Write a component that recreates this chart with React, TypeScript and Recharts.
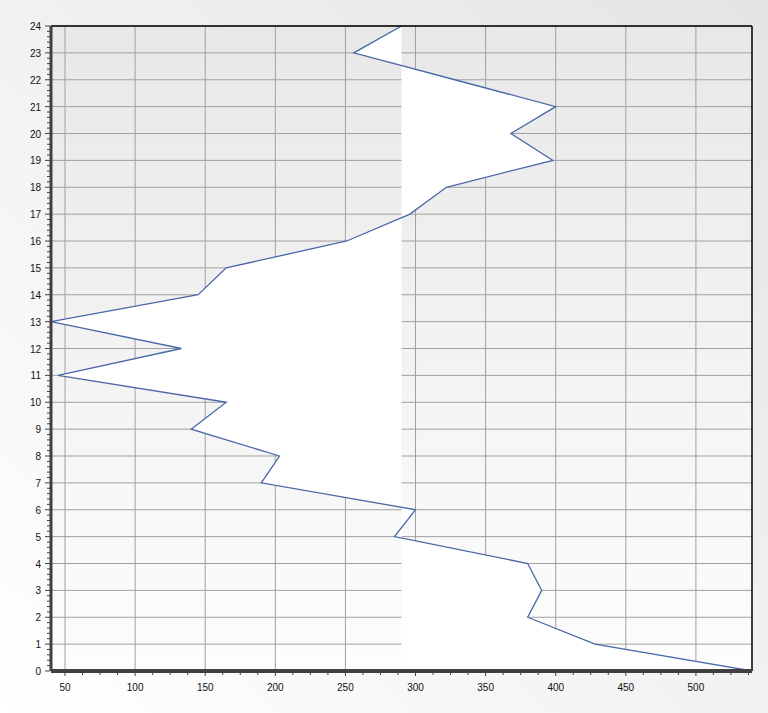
import { Area, CartesianGrid, ComposedChart, ReferenceLine, XAxis, YAxis } from "recharts";

// depth levels (vertical axis) and readings (horizontal axis)
const levels = [0, 1, 2, 3, 4, 5, 6, 7, 8, 9, 10, 11, 12, 13, 14, 15, 16, 17, 18, 19, 20, 21, 22, 23, 24];
const readings = [540, 428, 380, 390, 380, 285, 300, 190, 203, 140, 165, 45, 133, 40, 145, 165, 251, 296, 322, 398, 368, 400, 328, 256, 290];

const baseline = 290;
const xMajorTicks = [50, 100, 150, 200, 250, 300, 350, 400, 450, 500];
const xMinorTicks = [
  62.5, 75, 87.5, 112.5, 125, 137.5, 162.5, 175, 187.5, 212.5, 225, 237.5, 262.5, 275, 287.5,
  312.5, 325, 337.5, 362.5, 375, 387.5, 412.5, 425, 437.5, 462.5, 475, 487.5, 512.5, 525, 537.5,
];
const yMinorSteps = [0.2, 0.4, 0.6, 0.8];

const data = levels.map((level, i) => ({ level, value: readings[i] }));

const xTicks = [...xMajorTicks, ...xMinorTicks].sort((a, b) => a - b);
const yTicks = levels.flatMap((l) => (l < 24 ? [l, ...yMinorSteps.map((s) => l + s)] : [l]));

const font = "'Liberation Sans', Arial, sans-serif";

const XTick = ({ x, y, payload }: any) => {
  const major = xMajorTicks.includes(payload.value);
  return (
    <g>
      <line x1={x} x2={x} y1={y + 1} y2={y + (major ? 5 : 4)} stroke="#404040" />
      {major && (
        <text x={x} y={y + 20} textAnchor="middle" fontSize={10} fontFamily={font} fill="#111">
          {payload.value}
        </text>
      )}
    </g>
  );
};

const YTick = ({ x, y, payload }: any) => {
  const major = Number.isInteger(payload.value);
  return (
    <g>
      <line x1={x - (major ? 6 : 4)} x2={x - 1} y1={y} y2={y} stroke="#404040" />
      {major && (
        <text x={x - 10} y={y + 4} textAnchor="end" fontSize={10} fontFamily={font} fill="#111">
          {payload.value}
        </text>
      )}
    </g>
  );
};

export default function App() {
  return (
    <div
      style={{
        position: "absolute",
        top: 0,
        left: 0,
        width: 768,
        height: 713,
        background: "linear-gradient(to bottom left, #e4e4e4, #ffffff)",
      }}
    >
      <ComposedChart
        width={768}
        height={713}
        layout="vertical"
        data={data}
        margin={{ top: 26, right: 16, bottom: 0, left: 0 }}
      >
        <defs>
          <linearGradient id="plotBg" x1="0" y1="0" x2="0" y2="1">
            <stop offset="0%" stopColor="#e8e8e8" />
            <stop offset="100%" stopColor="#fdfdfd" />
          </linearGradient>
        </defs>
        <CartesianGrid
          fill="url(#plotBg)"
          stroke="#a0a0a0"
          strokeOpacity={1}
          verticalValues={xMajorTicks}
          horizontalValues={levels}
        />
        <XAxis
          type="number"
          domain={[40, 540]}
          ticks={xTicks}
          interval={0}
          height={42}
          tickSize={0}
          tickMargin={0}
          tick={<XTick />}
          axisLine={{ stroke: "#404040", strokeWidth: 4 }}
          allowDataOverflow
        />
        <YAxis
          type="number"
          dataKey="level"
          domain={[0, 24]}
          reversed
          ticks={yTicks}
          interval={0}
          width={51}
          tickSize={0}
          tickMargin={0}
          tick={<YTick />}
          axisLine={{ stroke: "#404040", strokeWidth: 3 }}
          allowDataOverflow
        />
        <ReferenceLine y={24} stroke="#000" strokeWidth={1.5} />
        <ReferenceLine x={540} stroke="#000" strokeWidth={1.5} />
        <Area
          type="linear"
          dataKey="value"
          baseValue={baseline}
          stroke="#4a68a8"
          strokeWidth={1.3}
          fill="#ffffff"
          fillOpacity={1}
          dot={false}
          activeDot={false}
          isAnimationActive={false}
        />
      </ComposedChart>
    </div>
  );
}
